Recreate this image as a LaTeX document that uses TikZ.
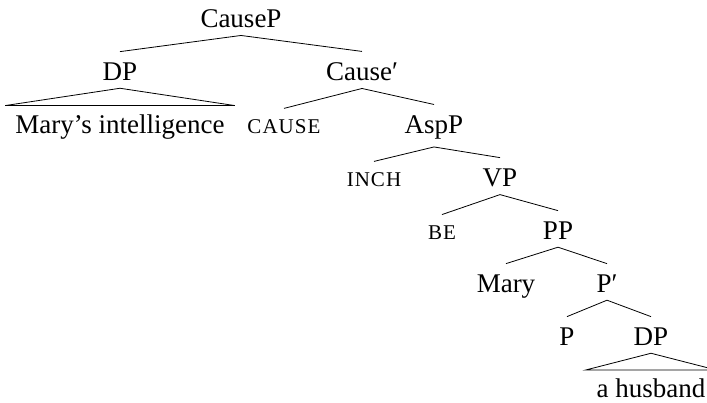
\documentclass[tikz,border=0pt]{standalone}
\usepackage{fontspec}
\setmainfont{Liberation Serif}
\newfontfamily\scfont[LetterSpace=5]{Liberation Serif}
\begin{document}
\begin{tikzpicture}[x=1pt,y=-1pt,
  lab/.style={inner sep=0pt, anchor=base, font=\fontsize{27}{30}\selectfont},
  smc/.style={inner sep=0pt, anchor=base, font=\scfont\fontsize{21}{24}\selectfont},
  br/.style={line width=0.8pt}]
\useasboundingbox (0,0) rectangle (707,402);
\node[lab] (cp) at (241,27) {CauseP};
\node[lab] (dpa) at (120,80) {DP};
\node[lab] (cbar) at (362,80) {Cause′};
\node[lab] (mi) at (120,133) {Mary’s intelligence};
\node[smc] (cause) at (284,133) {CAUSE};
\node[lab] (asp) at (434,133) {AspP};
\node[smc] (inch) at (374,186) {INCH};
\node[lab] (vp) at (500,186) {VP};
\node[smc] (be) at (442,239) {BE};
\node[lab] (pp) at (558,239) {PP};
\node[lab] (mary) at (506,292) {Mary};
\node[lab] (pbar) at (607,292) {P′};
\node[lab] (p) at (567,345) {P};
\node[lab] (dpb) at (651,345) {DP};
\node[lab] (ah) at (651,397) {a husband};
\foreach \a/\b in {cp/dpa, cp/cbar, cbar/cause, cbar/asp, asp/inch, asp/vp, vp/be, vp/pp, pp/mary, pp/pbar, pbar/p, pbar/dpb}
  \draw[br] ([yshift=-8pt]\a.south) -- ([yshift=10.5pt]\b.north);
\draw[br] ([xshift=-10pt,yshift=8.5pt]mi.north west) -- ([yshift=-8pt]dpa.south) -- ([xshift=10pt,yshift=8.5pt]mi.north east) -- cycle;
\draw[br] ([xshift=-11pt,yshift=8pt]ah.north west) -- ([yshift=-8pt]dpb.south) -- ([xshift=11pt,yshift=8pt]ah.north east) -- cycle;
\end{tikzpicture}
\end{document}
